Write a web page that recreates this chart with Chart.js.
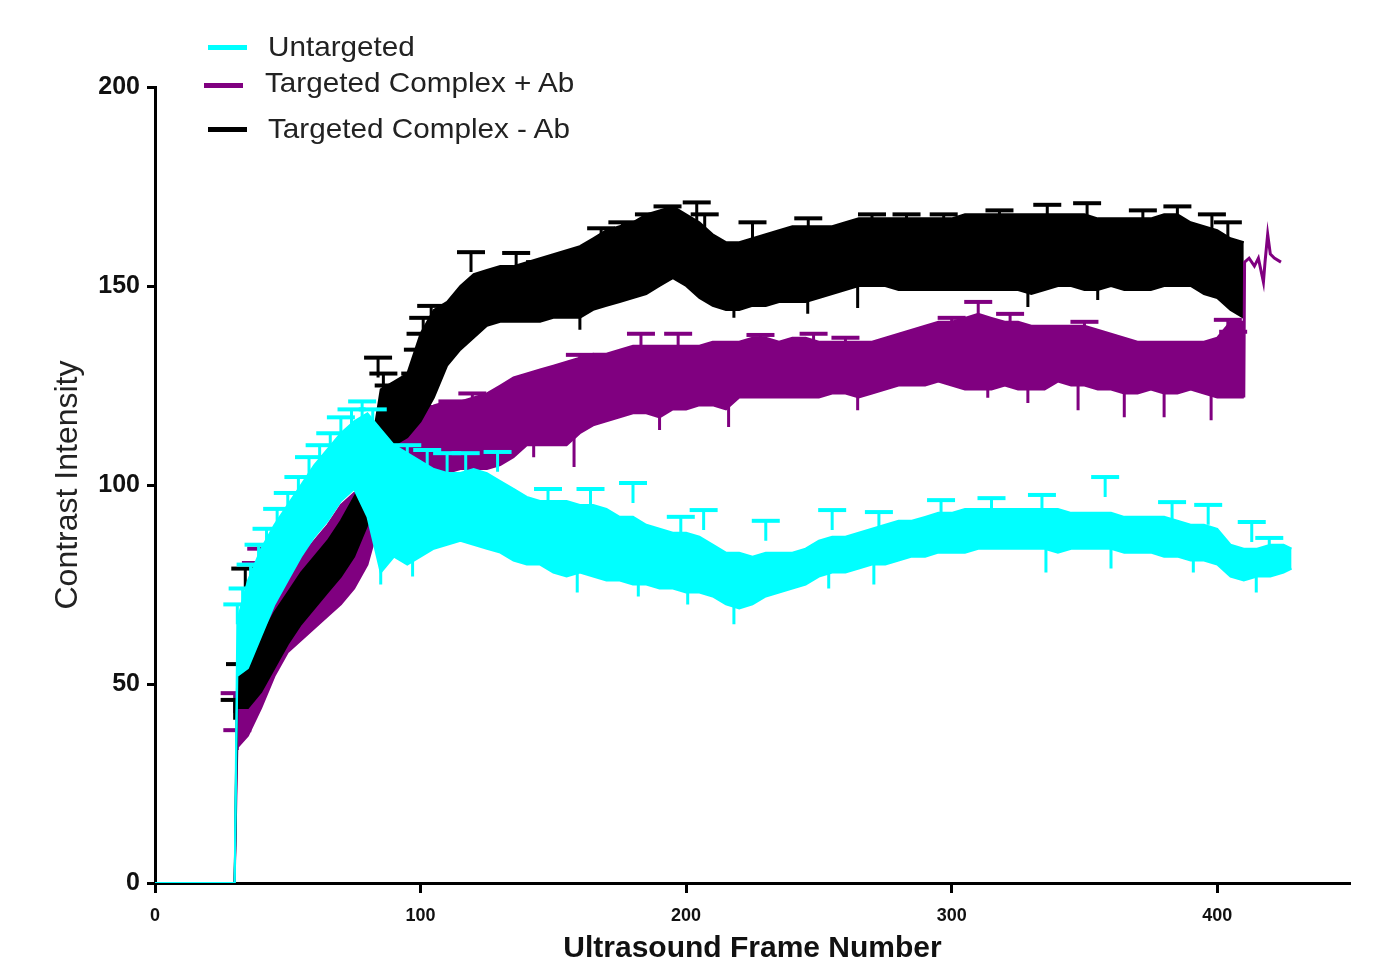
<!DOCTYPE html>
<html>
<head>
<meta charset="utf-8">
<script src="https://cdn.jsdelivr.net/npm/chart.js@4.4.1/dist/chart.umd.min.js"></script>
<style>
html, body { margin: 0; padding: 0; background: #fff; }
#wrap { position: relative; width: 1396px; height: 964px; }
.key { position: absolute; height: 5px; }
.lbl { position: absolute; font: 28px "Liberation Sans", Arial, sans-serif; line-height: 28px; color: #222;
       white-space: nowrap; transform: scaleX(1.06); transform-origin: left center; }
</style>
</head>
<body>
<div id="wrap">
  <canvas id="chart" width="1396" height="964"></canvas>
  <div class="key" style="left:208px;top:45px;width:39px;background:#00ffff"></div>
  <div class="lbl" style="left:268px;top:33px">Untargeted</div>
  <div class="key" style="left:204px;top:83px;width:39px;background:#800080"></div>
  <div class="lbl" style="left:265px;top:69px">Targeted Complex + Ab</div>
  <div class="key" style="left:208px;top:127px;width:39px;background:#000000"></div>
  <div class="lbl" style="left:268px;top:115px">Targeted Complex - Ab</div>
</div>
<script>
const frames = [0, 30, 31, 35, 40, 45, 50, 55, 60, 65, 70, 75, 80, 85, 90, 95, 100, 105, 110, 115, 120,
  125, 130, 135, 140, 145, 150, 155, 160, 165, 170, 175, 180, 185, 190, 195, 200, 205, 210, 215, 220,
  225, 230, 235, 240, 245, 250, 255, 260, 265, 270, 275, 280, 285, 290, 295, 300, 305, 310, 315, 320,
  325, 330, 335, 340, 345, 350, 355, 360, 365, 370, 375, 380, 385, 390, 395, 400, 405, 410, 415, 420,
  425, 428];

// Untargeted
const cyanHi = [0, 0, 66, 76, 84, 90, 95, 100, 105, 109, 113, 116, 118, 114, 110, 108, 106, 104, 103, 103, 104,
  103, 101, 99, 97, 96, 96, 96, 95, 95, 94, 92, 92, 90, 89, 88, 88, 87, 85, 83, 83,
  82, 83, 83, 83, 84, 86, 87, 87, 88, 89, 90, 91, 91, 92, 93, 93, 94, 94, 94, 94,
  94, 94, 94, 94, 93, 93, 93, 93, 92, 92, 92, 92, 91, 90, 90, 89, 85, 84, 84, 85,
  85, 84];
const cyanLo = [0, 0, 52, 54, 62, 70, 76, 82, 87, 91, 96, 99, 92, 78, 82, 80, 82, 84, 85, 86, 85,
  84, 83, 81, 80, 80, 78, 77, 78, 77, 76, 76, 75, 75, 74, 74, 73, 73, 72, 70, 69,
  70, 72, 73, 74, 75, 77, 78, 78, 79, 80, 80, 81, 82, 82, 83, 83, 83, 84, 84, 84,
  84, 84, 84, 83, 84, 84, 84, 84, 83, 83, 83, 82, 82, 81, 81, 80, 77, 76, 77, 77,
  78, 79];
const cyanSpikeX = [85, 97, 159, 182, 200.6, 218, 253.7, 270.7, 335.5, 360, 391, 414.7];
const cyanSpikeY = [75, 77, 73, 72, 70, 65, 74, 75, 78, 79, 78, 73];
const cyanCapX = [31, 33, 36, 39, 42, 46, 50, 54, 58, 62, 66, 70, 74, 78, 82, 95, 102.5, 110, 117, 129,
  148, 164, 180, 198, 206.6, 230, 255, 272.6, 296, 315, 334, 357.8, 383, 396.6, 413, 419.6];
const cyanCapY = [70, 74, 80, 85, 89, 94, 98, 102, 107, 110, 113, 117, 119, 121, 119, 110, 108.8, 108, 108, 108.3,
  99, 99, 100.5, 92, 93.7, 91, 93.7, 93.2, 96.2, 96.7, 97.5, 102, 95.7, 95, 90.7, 86.7];

// Targeted Complex + Ab
const purpleHi = [0, 0, 50, 54, 64, 72, 78, 82, 86, 90, 95, 98, 99, 106, 112, 115, 117, 120, 121, 121, 122,
  123, 125, 127, 128, 129, 130, 131, 132, 133, 133, 134, 135, 135, 135, 135, 135, 135, 136, 136, 136,
  137, 137, 136, 137, 137, 136, 136, 136, 136, 136, 137, 138, 139, 140, 141, 141, 142, 143, 142, 141,
  141, 140, 140, 140, 140, 140, 139, 138, 137, 136, 136, 136, 136, 136, 136, 137, 141, 141, null, null,
  null, null];
const purpleLo = [0, 0, 34, 37, 44, 52, 58, 61, 64, 67, 70, 74, 80, 92, 99, 101, 102, 103, 103, 104, 104,
  104, 105, 107, 110, 110, 110, 110, 113, 115, 116, 117, 118, 118, 117, 119, 119, 120, 120, 119, 122,
  122, 122, 122, 122, 122, 122, 123, 123, 122, 123, 124, 125, 125, 125, 126, 125, 124, 124, 124, 125,
  124, 124, 124, 126, 125, 125, 124, 124, 123, 123, 124, 123, 123, 124, 123, 122, 122, 122, null, null,
  null, null];
const purpleTailX = [410, 410.3, 412, 414, 415.5, 417.4, 418, 419, 420, 421.5, 424];
const purpleTailY = [122, 156, 157, 155, 157, 151, 156, 163, 158, 157, 156];
const purpleSpikeX = [142.6, 157.8, 190, 216, 264.6, 313.6, 328.7, 347.6, 365, 380, 397.7];
const purpleSpikeY = [107, 104.5, 113.8, 114.6, 118.8, 121.9, 120.6, 118.8, 117, 117, 116.3];
const purpleCapX = [30, 31, 36, 38, 40, 105, 112, 119.5, 127, 138, 160, 165, 183, 197, 228, 248, 260, 300,
  310, 322, 350, 404, 406];
const purpleCapY = [47.7, 38.4, 52.7, 80.4, 84, 119.6, 121, 123, 121.4, 125, 132.7, 130, 138, 138, 137.7, 138, 137, 142,
  146, 143, 141, 141.5, 138.5];

// Targeted Complex - Ab
const blackHi = [0, 0, 56, 60, 62, 68, 73, 78, 82, 86, 91, 97, 103, 124, 126, 128, 138, 144, 146, 150, 153,
  154, 155, 155, 156, 157, 158, 159, 160, 162, 164, 165, 166, 168, 169, 170, 168, 166, 163, 161, 161,
  162, 163, 164, 165, 165, 165, 165, 166, 167, 167, 167, 167, 167, 167, 167, 167, 168, 168, 168, 168,
  168, 168, 168, 168, 168, 168, 167, 167, 167, 167, 167, 168, 168, 166, 165, 164, 162, 161, null, null,
  null, null];
const blackLo = [0, 0, 44, 44, 48, 54, 60, 65, 69, 73, 77, 82, 90, 108, 110, 112, 116, 122, 130, 134, 137,
  140, 141, 141, 141, 141, 142, 142, 142, 144, 145, 146, 147, 148, 150, 152, 150, 147, 145, 144, 144,
  145, 145, 146, 146, 146, 147, 148, 149, 150, 150, 150, 149, 149, 149, 149, 149, 149, 149, 149, 149,
  149, 148, 149, 150, 150, 149, 149, 150, 149, 149, 149, 150, 150, 150, 148, 147, 144, 142, null, null,
  null, null];
const blackSpikeX = [160, 218, 245.8, 264.6, 328.7, 355];
const blackSpikeY = [139, 142, 143, 144.5, 144.7, 146.5];
const blackCapX = [30, 32, 34, 84, 86, 88, 95, 98, 99, 100, 101, 104, 119, 136, 145, 152, 168, 176, 186, 193,
  204, 207, 225, 246, 270, 283, 297, 318, 336, 351, 372, 385, 398, 404];
const blackCapY = [46, 55, 79, 132, 128, 125, 124, 128, 134, 138, 142, 145, 158.5, 158.3, 156, 157, 164.5, 166, 168, 170,
  171, 168, 166, 167, 168, 168, 168, 169, 170.4, 170.8, 169, 170, 168, 166];

const CYAN = '#00ffff';
const PURPLE = '#800080';
const BLACK = '#000000';
const FONT = '"Liberation Sans", Arial, sans-serif';

function pts(xs, ys) {
    return xs.map((x, i) => ({ x: x, y: ys[i] }));
}

// short vertical pieces, separated by gaps
function segs(xs, ys, len) {
    const out = [];
    xs.forEach((x, i) => {
        out.push({ x: x, y: ys[i] }, { x: x, y: ys[i] + len }, { x: x, y: null });
    });
    return out;
}

function series(label, hi, lo, spikeX, spikeY, capX, capY, color, order) {
    return [
        { label: label, data: pts(frames, hi), borderColor: color, backgroundColor: color,
          borderWidth: 2, fill: '+1', order: order },
        { label: label + ' low', data: pts(frames, lo), borderColor: color, borderWidth: 2,
          fill: false, order: order },
        { label: label + ' spikes', data: segs(spikeX, spikeY, 10), borderColor: color,
          borderWidth: 3, fill: false, order: order },
        { label: label + ' stems', data: segs(capX, capY, -5), borderColor: color,
          borderWidth: 3, fill: false, order: order },
        { label: label + ' caps', data: pts(capX, capY), showLine: false, pointStyle: 'line',
          pointRadius: 14, pointBorderWidth: 4, pointBorderColor: color, borderColor: color,
          fill: false, order: order }
    ];
}

const datasets = [
    ...series('Untargeted', cyanHi, cyanLo, cyanSpikeX, cyanSpikeY, cyanCapX, cyanCapY, CYAN, 1),
    ...series('Targeted Complex - Ab', blackHi, blackLo, blackSpikeX, blackSpikeY, blackCapX, blackCapY, BLACK, 2),
    ...series('Targeted Complex + Ab', purpleHi, purpleLo, purpleSpikeX, purpleSpikeY, purpleCapX, purpleCapY, PURPLE, 3),
    { label: 'Targeted Complex + Ab tail', data: pts(purpleTailX, purpleTailY), borderColor: PURPLE,
      borderWidth: 3, fill: false, order: 1 }
];

new Chart(document.getElementById('chart'), {
    type: 'line',
    data: { datasets: datasets },
    options: {
        responsive: false,
        animation: false,
        events: [],
        layout: { padding: { left: 0, right: 46, top: 87, bottom: 0 } },
        elements: {
            point: { radius: 0 },
            line: { tension: 0 }
        },
        plugins: {
            legend: { display: false },
            tooltip: { enabled: false }
        },
        scales: {
            x: {
                type: 'linear',
                min: 0,
                max: 450,
                ticks: {
                    stepSize: 100,
                    includeBounds: false,
                    padding: 12,
                    maxRotation: 0,
                    color: '#111',
                    font: { family: FONT, size: 18, weight: 'bold' }
                },
                grid: { drawOnChartArea: false, tickLength: 10, tickWidth: 3, tickColor: '#000' },
                border: { color: '#000', width: 3 },
                title: {
                    display: true,
                    text: 'Ultrasound Frame Number',
                    color: '#111',
                    font: { family: FONT, size: 30, weight: 'bold', lineHeight: 1 },
                    padding: { top: 0, bottom: 0 }
                },
                afterFit(scale) { scale.height = 81; }
            },
            y: {
                min: 0,
                max: 200,
                ticks: {
                    stepSize: 50,
                    padding: 7,
                    color: '#111',
                    font: { family: FONT, size: 25, weight: 'bold' }
                },
                grid: { drawOnChartArea: false, tickLength: 8, tickWidth: 3, tickColor: '#000' },
                border: { color: '#000', width: 3 },
                title: {
                    display: true,
                    text: 'Contrast Intensity',
                    color: '#222',
                    font: { family: FONT, size: 32 },
                    padding: { top: 49, bottom: 0 }
                },
                afterFit(scale) { scale.width = 155; }
            }
        }
    }
});
</script>
</body>
</html>
